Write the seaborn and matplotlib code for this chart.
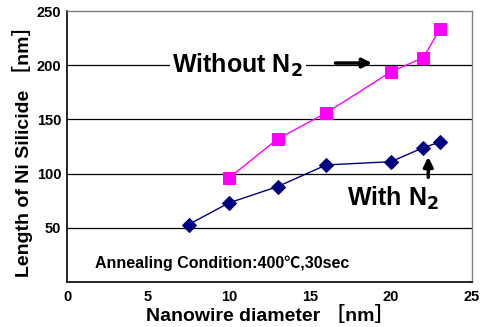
import matplotlib
matplotlib.use("Agg")
import matplotlib.pyplot as plt
import seaborn as sns
import pandas as pd

# values
diam_without = [10, 13, 16, 20, 22, 23]
len_without = [96, 132, 156, 194, 207, 233]
diam_with = [7.5, 10, 13, 16, 20, 22, 23]
len_with = [53, 73, 88, 108, 111, 124, 129]

x_ticks = [0, 5, 10, 15, 20, 25]
y_ticks = [50, 100, 150, 200, 250]

sns.set_style("white")
plt.rcParams['font.family'] = ['Liberation Sans', 'Noto Sans CJK JP', 'DejaVu Sans']
plt.rcParams['font.weight'] = 'bold'
plt.rcParams['text.color'] = 'black'
plt.rcParams['axes.labelcolor'] = 'black'
plt.rcParams['xtick.color'] = 'black'
plt.rcParams['ytick.color'] = 'black'

df_without = pd.DataFrame({"d": diam_without, "L": len_without})
df_with = pd.DataFrame({"d": diam_with, "L": len_with})

fig = plt.figure(figsize=(4.81, 3.27), dpi=100)
ax = fig.add_axes([0.1393, 0.1376, 0.842, 0.8287])

for y in [50, 100, 150, 200]:
    ax.axhline(y, color='black', lw=0.9, zorder=1)

sns.lineplot(data=df_without, x="d", y="L", ax=ax, color='#FF00FF', lw=1,
             marker='s', markersize=9, markeredgecolor='#FF00FF', zorder=3)
sns.lineplot(data=df_with, x="d", y="L", ax=ax, color='#000080', lw=1,
             marker='D', markersize=7, markeredgecolor='#000080', zorder=3)

ax.set_xlim(0, 25)
ax.set_ylim(0, 250)
ax.set_xticks(x_ticks)
ax.set_yticks(y_ticks)
ax.tick_params(axis='y', labelsize=10.5, length=0, pad=4)
ax.tick_params(axis='x', labelsize=10.5, direction='in', length=3, pad=6)
for lab in ax.get_xticklabels() + ax.get_yticklabels():
    lab.set_fontweight('bold')

for s in ['left', 'bottom']:
    ax.spines[s].set_color('black')
    ax.spines[s].set_linewidth(1.2)
for s in ['top', 'right']:
    ax.spines[s].set_color('#808080')
    ax.spines[s].set_linewidth(1.0)

ax.set_xlabel("Nanowire diameter ［nm］", fontsize=14, fontweight='bold', labelpad=1)
ax.set_ylabel("Length of Ni Silicide ［nm］", fontsize=14, fontweight='bold', labelpad=3)

ax.text(6.5, 200, "Without N$_2$", fontsize=18, fontweight='bold', va='center', ha='left',
        bbox=dict(facecolor='white', edgecolor='none', pad=2), zorder=4)
ax.text(17.3, 77, "With N$_2$", fontsize=18, fontweight='bold', va='center', ha='left', zorder=4)
ax.text(1.75, 17, "Annealing Condition:400℃,30sec", fontsize=11.5, fontweight='bold',
        va='center', ha='left', zorder=4)

ax.annotate("", xy=(19.0, 202), xytext=(16.4, 202),
            arrowprops=dict(arrowstyle='-|>', color='black', lw=2.5, mutation_scale=14), zorder=4)
ax.annotate("", xy=(22.3, 118), xytext=(22.3, 94),
            arrowprops=dict(arrowstyle='-|>', color='black', lw=2.5, mutation_scale=14), zorder=4)

fig.savefig("out.png", dpi=100)
